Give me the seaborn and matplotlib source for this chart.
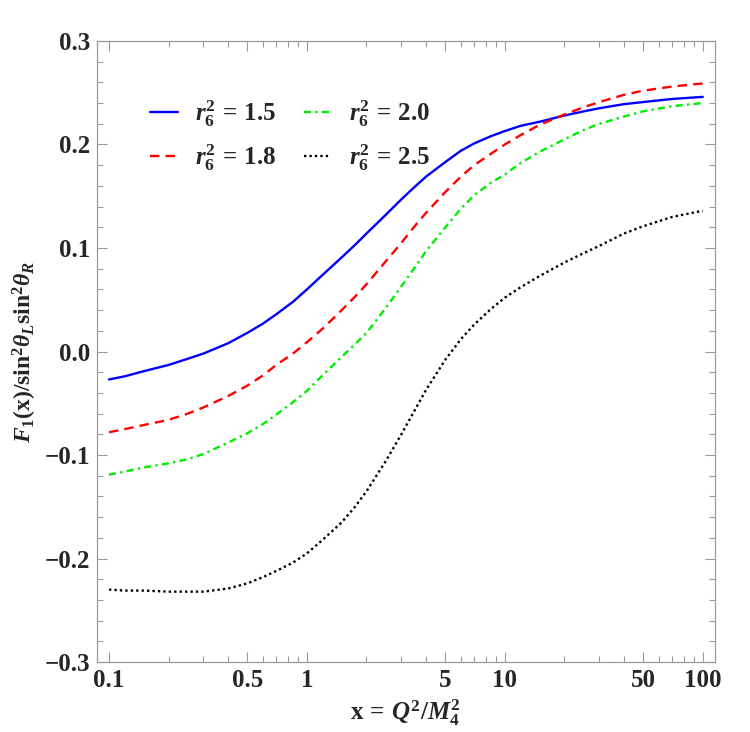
import numpy as np
import pandas as pd
import matplotlib
matplotlib.use("Agg")
import matplotlib.pyplot as plt
import seaborn as sns
from matplotlib.ticker import FixedLocator, FixedFormatter, NullFormatter

# ---------------- data ----------------
x_vals = [0.1, 0.12, 0.15, 0.2, 0.25, 0.3, 0.4, 0.5, 0.6, 0.7, 0.85, 1.0, 1.2, 1.5,
          1.75, 2.0, 2.5, 3.0, 3.5, 4.0, 5.0, 6.0, 7.0, 8.5, 10, 12, 15, 20, 25, 30,
          40, 50, 70, 100]
f_r15 = [-0.027, -0.024, -0.019, -0.013, -0.007, -0.002, 0.008, 0.018, 0.027, 0.036,
         0.048, 0.060, 0.074, 0.091, 0.103, 0.114, 0.132, 0.147, 0.159, 0.169, 0.183,
         0.194, 0.201, 0.208, 0.213, 0.218, 0.222, 0.228, 0.232, 0.235, 0.239, 0.241,
         0.244, 0.246]
f_r18 = [-0.078, -0.075, -0.071, -0.066, -0.060, -0.054, -0.043, -0.033, -0.023, -0.013,
         -0.002, 0.009, 0.022, 0.040, 0.053, 0.065, 0.087, 0.105, 0.121, 0.134, 0.154,
         0.169, 0.180, 0.191, 0.200, 0.209, 0.219, 0.229, 0.236, 0.241, 0.248, 0.252,
         0.256, 0.259]
f_r20 = [-0.119, -0.116, -0.112, -0.108, -0.104, -0.099, -0.088, -0.079, -0.070, -0.061,
         -0.049, -0.038, -0.023, -0.005, 0.007, 0.018, 0.042, 0.063, 0.081, 0.097, 0.120,
         0.138, 0.151, 0.163, 0.171, 0.182, 0.193, 0.205, 0.214, 0.220, 0.227, 0.232,
         0.237, 0.240]
f_r25 = [-0.230, -0.231, -0.231, -0.232, -0.232, -0.232, -0.229, -0.224, -0.218, -0.212,
         -0.204, -0.195, -0.182, -0.165, -0.150, -0.135, -0.106, -0.080, -0.057, -0.037,
         -0.008, 0.012, 0.026, 0.041, 0.052, 0.062, 0.073, 0.086, 0.095, 0.102, 0.114,
         0.121, 0.130, 0.136]
series_names = ["1.5", "1.8", "2.0", "2.5"]
series_vals = [f_r15, f_r18, f_r20, f_r25]
series_colors = ["#0000ff", "#ff0000", "#00ee00", "#000000"]

x_major = [0.1, 0.5, 1, 5, 10, 50, 100]
x_major_labels = ["0.1", "0.5", "1", "5", "10", "50", "100"]
y_major = [-0.3, -0.2, -0.1, 0.0, 0.1, 0.2, 0.3]
y_major_labels = ["\u22120.3", "\u22120.2", "\u22120.1", "0.0", "0.1", "0.2", "0.3"]

# ---------------- build table ----------------
rows = []
for name, vals in zip(series_names, series_vals):
    for xv, yv in zip(x_vals, vals):
        rows.append({"x": xv, "F": yv, "r": name})
df = pd.DataFrame(rows)

# ---------------- style ----------------
sns.set_style("ticks")
plt.rcParams["font.family"] = ["Liberation Serif", "DejaVu Serif"]
plt.rcParams["font.weight"] = "bold"
plt.rcParams["mathtext.fontset"] = "custom"
plt.rcParams["mathtext.rm"] = "Liberation Serif:bold"
plt.rcParams["mathtext.bf"] = "Liberation Serif:bold"
plt.rcParams["mathtext.it"] = "Liberation Serif:italic:bold"
plt.rcParams["mathtext.sf"] = "Liberation Serif:bold"

fig = plt.figure(figsize=(7.5, 7.32), dpi=100)
ax = fig.add_axes([0.129, 0.0956, 0.824, 0.8484])

palette = dict(zip(series_names, series_colors))
dashes = {"1.5": "", "1.8": (4, 2.6), "2.0": (3.0, 1.8, 1.0, 1.8), "2.5": (1.0, 1.3)}
sns.lineplot(data=df, x="x", y="F", hue="r", style="r", palette=palette,
             dashes=dashes, hue_order=series_names, style_order=series_names,
             estimator=None, linewidth=1.7, legend=False, ax=ax)

ax.set_xscale("log")
ax.set_xlim(0.0867, 115)
ax.set_ylim(-0.3, 0.3)

# ticks
ax.xaxis.set_major_locator(FixedLocator(x_major))
ax.xaxis.set_major_formatter(FixedFormatter(x_major_labels))
minor_x = [m * d for d in [0.1, 1, 10] for m in range(2, 10) if m != 5]
ax.xaxis.set_minor_locator(FixedLocator(minor_x))
ax.xaxis.set_minor_formatter(NullFormatter())
ax.yaxis.set_major_locator(FixedLocator(y_major))
ax.yaxis.set_major_formatter(FixedFormatter(y_major_labels))
ax.yaxis.set_minor_locator(FixedLocator(np.round(np.arange(-0.3, 0.301, 0.02), 3)))

frame_col = "#9a9a9a"
ax.tick_params(which="both", direction="in", top=True, right=True,
               color=frame_col, width=0.8)
ax.tick_params(which="major", length=7, labelsize=18, pad=5)
ax.tick_params(which="minor", length=4)
for sp in ax.spines.values():
    sp.set_color(frame_col)
    sp.set_linewidth(0.9)
for lab in ax.get_xticklabels() + ax.get_yticklabels():
    lab.set_fontweight("bold")

ax.set_xlabel(r"$\mathrm{x}\,=\,Q^2/M_4^2$", fontsize=18, labelpad=4)
ax.set_ylabel(r"$F_1(\mathrm{x})/\mathrm{sin}^2\theta_L\mathrm{sin}^2\theta_R$",
              fontsize=17, labelpad=4)

labels = [r"$r_6^2\,=\,\mathrm{%s}$" % n for n in series_names]
ax.legend(handles=ax.lines[:4], labels=labels, ncol=2, frameon=False,
          fontsize=18, handlelength=1.1, handletextpad=0.7, columnspacing=1.1,
          labelspacing=0.55, loc="upper left", bbox_to_anchor=(0.05, 0.945))

fig.savefig("out.png", dpi=100)
